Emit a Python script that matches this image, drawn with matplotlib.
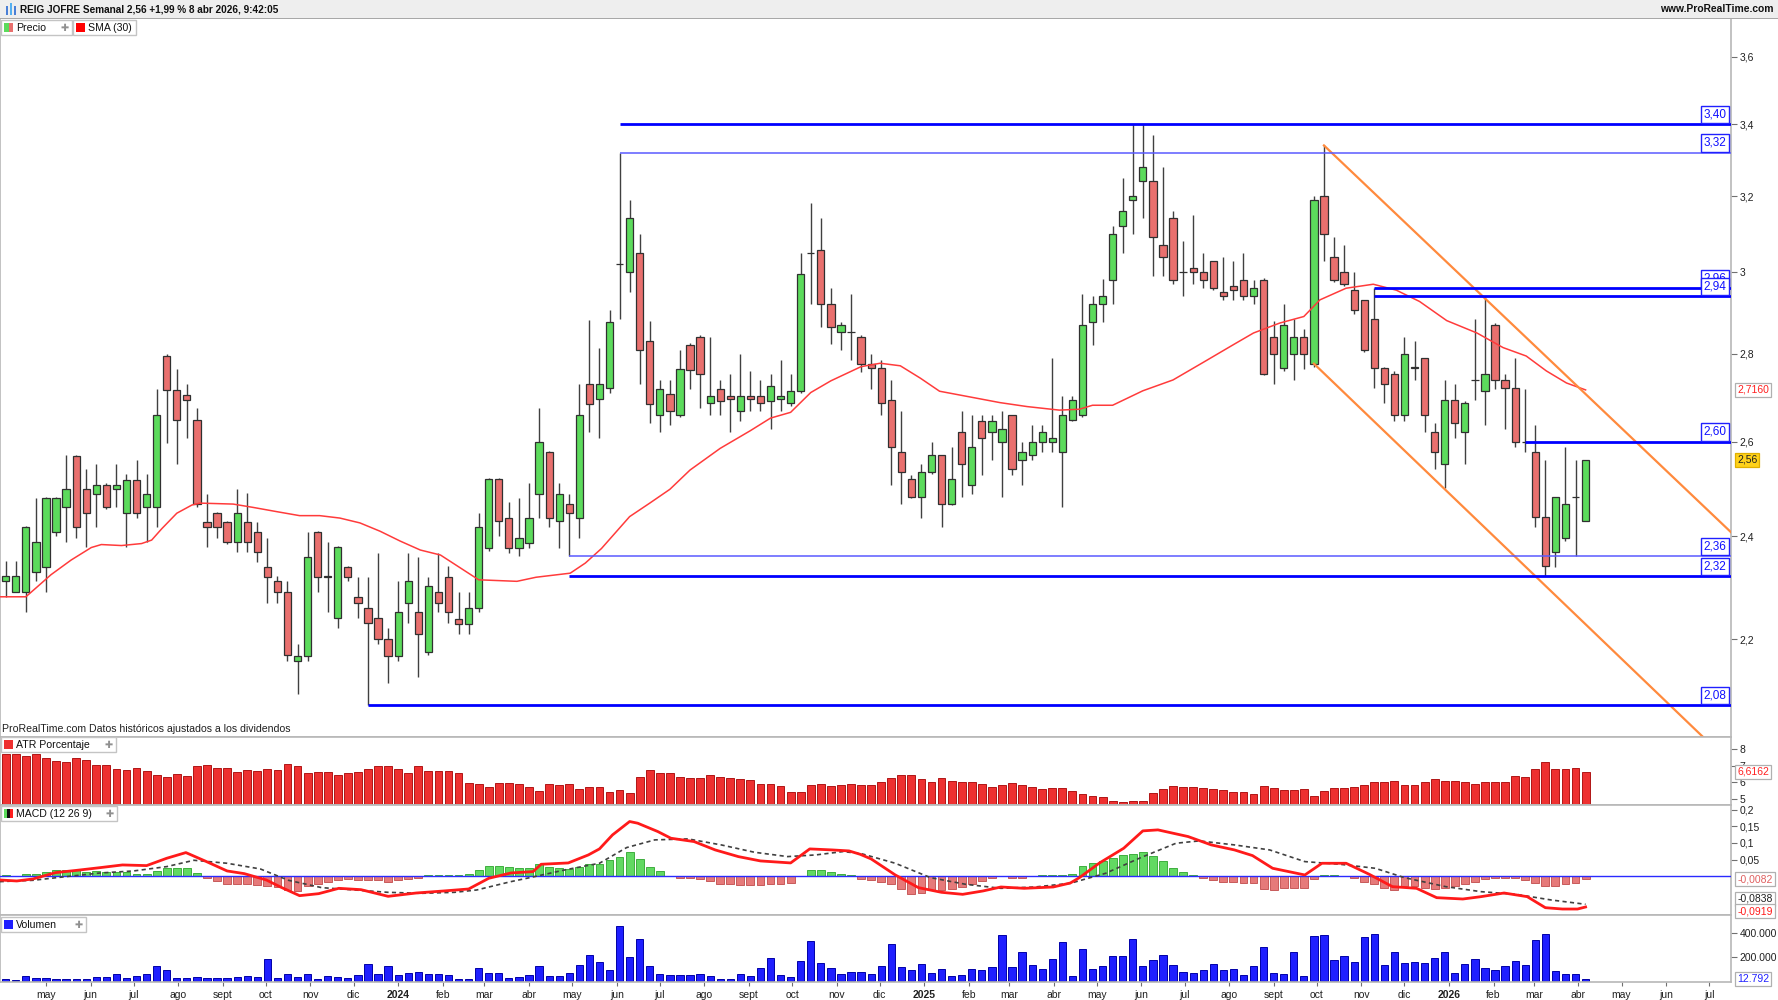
import matplotlib
matplotlib.use('Agg')
import matplotlib.pyplot as plt
import numpy as np
import pandas as pd
from matplotlib.patches import Rectangle
from matplotlib.ticker import NullLocator

plt.rcParams['font.family'] = ['Liberation Sans', 'DejaVu Sans']

W, H = 1778, 1000

# ---------------- data: weekly bars, first bar = week of 3 Apr 2023 ----------------
first_week = '2023-04-03'

opens = [2.31, 2.29, 2.29, 2.328, 2.338, 2.408, 2.459, 2.568, 2.497, 2.487,
         2.507, 2.497, 2.447, 2.517, 2.459, 2.459, 2.795, 2.716, 2.704, 2.647,
         2.428, 2.447, 2.428, 2.388, 2.428, 2.408, 2.338, 2.31, 2.289, 2.16,
         2.168, 2.408, 2.32, 2.24, 2.338, 2.28, 2.258, 2.24, 2.20, 2.168,
         2.268, 2.25, 2.176, 2.29, 2.318, 2.238, 2.228, 2.258, 2.377, 2.518,
         2.438, 2.377, 2.387, 2.487, 2.578, 2.43, 2.467, 2.438, 2.73, 2.695,
         2.72, 3.02, 3.0, 3.05, 2.83, 2.658, 2.707, 2.658, 2.82, 2.84,
         2.685, 2.717, 2.703, 2.667, 2.703, 2.703, 2.69, 2.695, 2.685, 2.714,
         3.05, 3.058, 2.92, 2.852, 2.852, 2.84, 2.777, 2.768, 2.694, 2.578,
         2.518, 2.48, 2.534, 2.57, 2.467, 2.62, 2.507, 2.645, 2.62, 2.598,
         2.658, 2.56, 2.57, 2.598, 2.598, 2.578, 2.648, 2.658, 2.877, 2.92,
         2.98, 3.12, 3.19, 3.24, 3.24, 3.07, 3.14, 3.0, 3.01, 3.0,
         3.03, 2.95, 2.965, 2.98, 2.94, 2.98, 2.84, 2.768, 2.80, 2.84,
         2.777, 3.20, 3.04, 3.0, 2.955, 2.93, 2.885, 2.768, 2.752, 2.658,
         2.768, 2.79, 2.62, 2.552, 2.694, 2.62, 2.738, 2.714, 2.87, 2.738,
         2.72, 2.598, 2.578, 2.44, 2.368, 2.397, 2.48, 2.43]

highs = [2.35, 2.35, 2.42, 2.479, 2.48, 2.48, 2.57, 2.57, 2.54, 2.55,
         2.51, 2.55, 2.53, 2.56, 2.53, 2.717, 2.80, 2.764, 2.73, 2.675,
         2.488, 2.45, 2.43, 2.497, 2.49, 2.428, 2.397, 2.32, 2.31, 2.19,
         2.408, 2.41, 2.388, 2.38, 2.34, 2.318, 2.318, 2.366, 2.22, 2.31,
         2.366, 2.359, 2.318, 2.366, 2.34, 2.29, 2.29, 2.447, 2.52, 2.52,
         2.47, 2.478, 2.51, 2.675, 2.58, 2.51, 2.487, 2.73, 2.882, 2.815,
         2.907, 3.32, 3.19, 3.10, 2.88, 2.74, 2.74, 2.81, 2.825, 2.845,
         2.84, 2.738, 2.752, 2.80, 2.76, 2.738, 2.752, 2.785, 2.752, 3.05,
         3.18, 3.14, 2.96, 2.877, 2.945, 2.845, 2.80, 2.785, 2.738, 2.667,
         2.528, 2.552, 2.598, 2.57, 2.588, 2.667, 2.658, 2.658, 2.658, 2.667,
         2.66, 2.598, 2.637, 2.637, 2.79, 2.703, 2.703, 2.945, 2.94, 2.983,
         3.12, 3.25, 3.40, 3.40, 3.37, 3.28, 3.16, 3.08, 3.15, 3.05,
         3.03, 3.04, 3.03, 3.05, 2.98, 2.985, 2.88, 2.92, 2.885, 2.86,
         3.20, 3.34, 3.09, 3.07, 3.0, 2.93, 2.96, 2.77, 2.76, 2.84,
         2.83, 2.79, 2.64, 2.738, 2.73, 2.69, 2.885, 2.94, 2.875, 2.752,
         2.79, 2.717, 2.637, 2.56, 2.48, 2.588, 2.56, 2.56]

lows = [2.28, 2.29, 2.25, 2.31, 2.29, 2.40, 2.388, 2.397, 2.378, 2.418,
        2.455, 2.459, 2.378, 2.437, 2.388, 2.418, 2.597, 2.55, 2.608, 2.459,
        2.378, 2.397, 2.385, 2.368, 2.368, 2.348, 2.268, 2.268, 2.16, 2.10,
        2.16, 2.29, 2.25, 2.22, 2.31, 2.24, 2.08, 2.19, 2.12, 2.16,
        2.23, 2.13, 2.17, 2.25, 2.23, 2.21, 2.21, 2.25, 2.37, 2.40,
        2.366, 2.36, 2.377, 2.438, 2.418, 2.377, 2.36, 2.397, 2.62, 2.608,
        2.71, 2.885, 2.95, 2.73, 2.64, 2.62, 2.637, 2.655, 2.717, 2.675,
        2.658, 2.658, 2.62, 2.645, 2.667, 2.667, 2.628, 2.667, 2.68, 2.71,
        2.92, 2.865, 2.823, 2.81, 2.785, 2.757, 2.717, 2.658, 2.507, 2.467,
        2.478, 2.437, 2.53, 2.418, 2.465, 2.48, 2.487, 2.528, 2.56, 2.48,
        2.528, 2.507, 2.56, 2.578, 2.578, 2.46, 2.645, 2.655, 2.82, 2.877,
        2.92, 3.05, 3.10, 3.14, 2.99, 2.99, 2.97, 2.94, 2.97, 2.96,
        2.955, 2.93, 2.93, 2.93, 2.92, 2.75, 2.73, 2.76, 2.74, 2.764,
        2.77, 3.03, 2.975, 2.965, 2.895, 2.805, 2.72, 2.685, 2.645, 2.645,
        2.738, 2.62, 2.54, 2.50, 2.608, 2.552, 2.694, 2.637, 2.717, 2.628,
        2.588, 2.578, 2.418, 2.32, 2.338, 2.39, 2.36, 2.43]

closes = [2.32, 2.32, 2.418, 2.388, 2.479, 2.479, 2.497, 2.418, 2.447, 2.507,
          2.459, 2.507, 2.517, 2.447, 2.487, 2.658, 2.716, 2.647, 2.694, 2.467,
          2.418, 2.418, 2.388, 2.447, 2.388, 2.368, 2.318, 2.29, 2.17, 2.168,
          2.359, 2.318, 2.318, 2.378, 2.318, 2.268, 2.23, 2.20, 2.168, 2.25,
          2.31, 2.21, 2.30, 2.268, 2.25, 2.228, 2.258, 2.418, 2.518, 2.43,
          2.377, 2.397, 2.438, 2.598, 2.438, 2.487, 2.447, 2.658, 2.684, 2.73,
          2.877, 3.02, 3.14, 2.81, 2.684, 2.717, 2.667, 2.764, 2.763, 2.752,
          2.703, 2.69, 2.695, 2.703, 2.695, 2.685, 2.726, 2.703, 2.714, 2.996,
          3.05, 2.92, 2.865, 2.87, 2.852, 2.777, 2.768, 2.685, 2.588, 2.534,
          2.48, 2.534, 2.57, 2.467, 2.518, 2.552, 2.588, 2.608, 2.645, 2.627,
          2.54, 2.578, 2.598, 2.62, 2.608, 2.658, 2.694, 2.87, 2.92, 2.94,
          3.10, 3.16, 3.20, 3.28, 3.09, 3.04, 2.98, 3.0, 3.0, 2.98,
          2.96, 2.94, 2.955, 2.94, 2.96, 2.752, 2.80, 2.87, 2.84, 2.80,
          3.19, 3.10, 2.98, 2.97, 2.905, 2.81, 2.768, 2.73, 2.658, 2.80,
          2.768, 2.658, 2.578, 2.694, 2.64, 2.685, 2.738, 2.752, 2.738, 2.72,
          2.60, 2.598, 2.44, 2.34, 2.48, 2.467, 2.48, 2.56]

volumes = [17000, 2000, 42000, 25000, 25000, 11000, 17000, 17000, 11000, 31000,
           31000, 56000, 25000, 42000, 56000, 125000, 92000, 25000, 25000, 31000,
           25000, 25000, 25000, 31000, 36000, 31000, 178000, 25000, 56000, 31000,
           56000, 17000, 36000, 31000, 25000, 47000, 139000, 56000, 125000, 47000,
           64000, 75000, 56000, 56000, 47000, 17000, 17000, 103000, 64000, 64000,
           25000, 31000, 47000, 119000, 42000, 42000, 64000, 131000, 214000, 153000,
           92000, 456000, 194000, 347000, 125000, 56000, 47000, 47000, 47000, 56000,
           36000, 17000, 17000, 56000, 36000, 108000, 186000, 47000, 31000, 164000,
           331000, 144000, 108000, 56000, 75000, 75000, 53000, 125000, 308000, 117000,
           92000, 136000, 61000, 100000, 36000, 47000, 100000, 86000, 117000, 381000,
           117000, 239000, 131000, 100000, 178000, 325000, 39000, 261000, 100000, 125000,
           208000, 208000, 347000, 125000, 169000, 217000, 131000, 69000, 61000, 86000,
           136000, 92000, 97000, 47000, 122000, 278000, 61000, 53000, 239000, 39000,
           369000, 378000, 169000, 203000, 153000, 361000, 392000, 131000, 239000, 147000,
           153000, 147000, 186000, 239000, 61000, 136000, 178000, 108000, 86000, 125000,
           164000, 131000, 339000, 386000, 78000, 56000, 56000, 12792]

atr_pct = [7.70, 7.70, 7.58, 7.70, 7.44, 7.28, 7.20, 7.44, 7.32, 7.03,
           7.03, 6.77, 6.71, 6.85, 6.69, 6.41, 6.29, 6.47, 6.35, 6.97,
           7.03, 6.87, 6.83, 6.59, 6.71, 6.67, 6.77, 6.71, 7.07, 6.97,
           6.53, 6.59, 6.59, 6.43, 6.53, 6.61, 6.81, 6.97, 6.97, 6.77,
           6.53, 6.97, 6.65, 6.65, 6.65, 6.53, 5.93, 5.91, 5.70, 5.93,
           5.97, 5.87, 5.73, 5.46, 5.91, 5.83, 5.87, 5.59, 5.69, 5.69,
           5.40, 5.53, 5.36, 6.31, 6.71, 6.53, 6.53, 6.29, 6.25, 6.25,
           6.41, 6.29, 6.23, 6.17, 6.11, 5.87, 5.91, 5.79, 5.40, 5.40,
           5.81, 5.91, 5.77, 5.83, 5.87, 5.83, 5.83, 6.00, 6.27, 6.43,
           6.41, 6.19, 6.00, 6.27, 6.09, 6.03, 6.00, 5.89, 5.71, 5.81,
           5.97, 5.83, 5.73, 5.59, 5.67, 5.67, 5.46, 5.26, 5.16, 5.10,
           4.88, 4.82, 4.88, 4.88, 5.36, 5.59, 5.75, 5.71, 5.71, 5.65,
           5.59, 5.53, 5.42, 5.42, 5.26, 5.77, 5.63, 5.55, 5.55, 5.59,
           5.14, 5.46, 5.63, 5.63, 5.69, 5.83, 6.03, 6.03, 6.09, 5.81,
           5.81, 6.03, 6.21, 6.05, 6.09, 6.03, 5.87, 6.03, 6.03, 6.03,
           6.35, 6.29, 6.81, 7.20, 6.77, 6.81, 6.87, 6.6162]

macd_hist = [0.004, 0.0, 0.006, 0.006, 0.012, 0.018, 0.02, 0.018, 0.014, 0.016,
             0.014, 0.014, 0.012, 0.007, 0.007, 0.016, 0.024, 0.024, 0.024, 0.01,
             -0.004, -0.013, -0.022, -0.022, -0.024, -0.026, -0.03, -0.032, -0.041, -0.044,
             -0.028, -0.022, -0.016, -0.012, -0.008, -0.01, -0.012, -0.012, -0.016, -0.012,
             -0.008, -0.004, 0.004, 0.004, 0.004, 0.004, 0.006, 0.018, 0.031, 0.031,
             0.028, 0.026, 0.026, 0.036, 0.028, 0.026, 0.021, 0.028, 0.036, 0.036,
             0.049, 0.058, 0.072, 0.053, 0.028, 0.015, 0.0, -0.006, -0.006, -0.009,
             -0.014, -0.022, -0.024, -0.026, -0.026, -0.026, -0.022, -0.022, -0.02, 0.0,
             0.018, 0.018, 0.014, 0.006, 0.004, -0.008, -0.01, -0.016, -0.024, -0.038,
             -0.052, -0.049, -0.042, -0.042, -0.038, -0.031, -0.022, -0.014, -0.006, 0.0,
             -0.004, -0.004, 0.0, 0.003, 0.003, 0.004, 0.007, 0.03, 0.041, 0.046,
             0.056, 0.064, 0.068, 0.074, 0.06, 0.046, 0.026, 0.014, 0.004, -0.006,
             -0.01, -0.016, -0.018, -0.02, -0.02, -0.038, -0.042, -0.036, -0.036, -0.036,
             -0.008, 0.004, 0.004, 0.0, -0.006, -0.016, -0.024, -0.034, -0.04, -0.028,
             -0.028, -0.034, -0.038, -0.034, -0.03, -0.024, -0.016, -0.008, -0.004, -0.004,
             -0.006, -0.01, -0.02, -0.03, -0.028, -0.024, -0.02, -0.0082]

# SMA(30), MACD and signal lines at these bar positions
sma_x = [-0.6, 2, 3, 4.5, 6.5, 8.5, 9.5, 11.5, 13.5, 14.5, 15.5, 17, 18.5, 19.3,
         22.6, 24.6, 27, 29.2, 31.2, 33.2, 35.2, 37.2, 39.2, 41.2, 43.2, 47, 50.8,
         52.7, 56.1, 57.6, 59.2, 62, 64, 66, 68, 71, 74, 76, 78, 80, 82, 85, 86.9,
         88.9, 90.9, 92.8, 95.8, 98.8, 101.5, 104.7, 106.7, 108, 110, 113, 116, 119,
         122, 124, 126.6, 129, 130.6, 133.2, 135.9, 138.2, 140.5, 143.2, 146.2,
         148.8, 151.1, 153.1, 155.1, 157]
sma_y = [2.28, 2.28, 2.297, 2.323, 2.352, 2.377, 2.383, 2.381, 2.385, 2.392, 2.415,
         2.447, 2.464, 2.468, 2.466, 2.459, 2.45, 2.442, 2.442, 2.437, 2.427, 2.41,
         2.39, 2.372, 2.362, 2.313, 2.31, 2.318, 2.326, 2.346, 2.375, 2.44, 2.468,
         2.497, 2.538, 2.585, 2.624, 2.652, 2.665, 2.71, 2.737, 2.77, 2.778, 2.772,
         2.743, 2.713, 2.70, 2.687, 2.678, 2.67, 2.672, 2.681, 2.681, 2.714, 2.739,
         2.78, 2.822, 2.85, 2.874, 2.89, 2.931, 2.96, 2.97, 2.955, 2.927, 2.88, 2.85,
         2.815, 2.795, 2.76, 2.732, 2.716]

macd_x = [-0.6, 1.1, 2.7, 4.95, 7.1, 9.4, 11.6, 14, 16, 17.9, 19.8, 22, 23.7, 25.9,
          27.3, 29.2, 31.1, 33.1, 35.3, 38, 40.8, 43.5, 46, 48, 50.2, 52.4, 53.2,
          55.9, 57.9, 59, 60.3, 62, 62.8, 64.8, 66.1, 68.4, 70.5, 72.8, 75, 78, 79.9,
          82.1, 83.8, 84.9, 86, 88.4, 90.7, 93, 95.1, 97.1, 98.9, 101.2, 104.1, 105.8,
          106.7, 108.7, 111.1, 113, 114.5, 117.5, 119.8, 122.1, 123.9, 125.9, 129.1,
          130.8, 133.2, 135.5, 137.8, 140.2, 142.2, 144.8, 146.6, 148.9, 151.2, 153,
          154.7, 156.2, 157]
macd_y = [-0.011, -0.014, -0.008, 0.011, 0.018, 0.026, 0.034, 0.032, 0.054, 0.071,
          0.046, 0.016, 0.008, -0.011, -0.032, -0.058, -0.052, -0.036, -0.04, -0.06,
          -0.05, -0.044, -0.038, -0.006, 0.01, 0.014, 0.036, 0.04, 0.064, 0.082,
          0.124, 0.164, 0.159, 0.134, 0.114, 0.104, 0.079, 0.059, 0.046, 0.04, 0.082,
          0.079, 0.076, 0.066, 0.052, 0.004, -0.034, -0.048, -0.054, -0.044, -0.032,
          -0.036, -0.032, -0.02, -0.004, 0.04, 0.084, 0.136, 0.139, 0.119, 0.094,
          0.079, 0.062, 0.024, 0.004, 0.039, 0.039, 0.006, -0.031, -0.036, -0.064,
          -0.068, -0.061, -0.05, -0.061, -0.094, -0.098, -0.098, -0.0919]

signal_x = [-0.6, 2.7, 6, 9.4, 12.7, 16, 18.7, 22, 25.3, 28.1, 31.4, 34.7, 38, 41.3,
            44.6, 46.8, 50.2, 52.4, 55.7, 59, 61.7, 64.5, 67.8, 71.1, 74.4, 77.7,
            80.5, 83.2, 85, 88.4, 91.9, 95.4, 98.9, 102.3, 105.8, 109.3, 112.8, 116.3,
            118.6, 122.1, 125.6, 129.1, 132.6, 136.1, 139, 143.1, 146.6, 150.1, 153.6, 157]
signal_y = [-0.016, -0.012, -0.001, 0.01, 0.016, 0.029, 0.048, 0.039, 0.022, -0.012,
            -0.034, -0.041, -0.048, -0.051, -0.048, -0.041, -0.016, -0.002, 0.02, 0.039,
            0.086, 0.109, 0.112, 0.094, 0.072, 0.059, 0.064, 0.074, 0.068, 0.039,
            -0.004, -0.024, -0.036, -0.032, -0.021, 0.009, 0.056, 0.099, 0.106, 0.094,
            0.079, 0.044, 0.036, 0.024, -0.004, -0.031, -0.046, -0.054, -0.071, -0.0838]

# horizontal support / resistance lines drawn on the chart
level_prices = [3.40, 3.32, 2.96, 2.94, 2.60, 2.36, 2.32, 2.08]
level_from_bar = [61, 61, 136, 136, 151, 56, 56, 36]
level_texts = ['3,40', '3,32', '2,96', '2,94', '2,60', '2,36', '2,32', '2,08']
level_thin = [False, True, False, False, False, True, False, False]

# bearish channel (bar, price) -> (bar, price)
channel = [((131, 3.34), (171.5, 2.407)), ((130, 2.777), (170.5, 1.995))]

month_names = {2: 'feb', 3: 'mar', 4: 'abr', 5: 'may', 6: 'jun', 7: 'jul',
               8: 'ago', 9: 'sept', 10: 'oct', 11: 'nov', 12: 'dic'}

# ---------------- figure ----------------
fig = plt.figure(figsize=(W / 100, H / 100), dpi=100)


def px_rect(x0, y0, x1, y1):
    return [x0 / W, 1 - y1 / H, (x1 - x0) / W, (y1 - y0) / H]


def fig_box(x0, y0, x1, y1, **kw):
    r = Rectangle((x0 / W, 1 - y1 / H), (x1 - x0) / W, (y1 - y0) / H,
                  transform=fig.transFigure, **kw)
    fig.patches.append(r)


def fig_text(x, y, s, **kw):
    fig.text(x / W, 1 - y / H, s, **kw)


X_RIGHT = 1731
ax_p = fig.add_axes(px_rect(0, 19, X_RIGHT, 737))
ax_a = fig.add_axes(px_rect(0, 737, X_RIGHT, 805), sharex=ax_p)
ax_m = fig.add_axes(px_rect(0, 805, X_RIGHT, 915), sharex=ax_p)
ax_v = fig.add_axes(px_rect(0, 915, X_RIGHT, 982), sharex=ax_p)

x = np.arange(len(closes))
o = np.array(opens)
c = np.array(closes)
up = c >= o

GREEN = '#5cdb5c'
RED = '#e9706e'

# candles
ax_p.vlines(x, lows, highs, color='#404040', lw=1.0, zorder=2)
body_lo = np.minimum(o, c)
body_h = np.maximum(np.abs(c - o), 0.0005)
ax_p.bar(x, body_h, bottom=body_lo, width=0.72,
         color=[GREEN if u else RED for u in up],
         edgecolor='#303030', linewidth=0.9, zorder=3)
ax_p.plot(sma_x, sma_y, color='#ff3b3b', lw=1.1, zorder=4)

for (x0, p0), (x1, p1) in channel:
    ax_p.plot([x0, x1], [p0, p1], color='#ff8a3d', lw=1.6, zorder=4)

xmin, xmax = -0.57, 171.45
for lv, start, thin in zip(level_prices, level_from_bar, level_thin):
    ax_p.hlines(lv, start, xmax, color='#5a5aff' if thin else '#0000ff',
                lw=1.1 if thin else 2.0, zorder=5)
for lv, txt in zip(level_prices, level_texts):
    ax_p.annotate(txt, xy=(1, lv), xycoords=('axes fraction', 'data'),
                  xytext=(-3.2, 2.6), textcoords='offset points', ha='right', va='bottom',
                  fontsize=8.5, color='#1010ff', zorder=6,
                  bbox=dict(boxstyle='square,pad=0.22', fc='white', ec='#2020ff', lw=1.0))

ax_p.set_yscale('log')
ax_p.set_ylim(2.025, 3.717)
ax_p.set_xlim(xmin, xmax)
pt = [2.2, 2.4, 2.6, 2.8, 3.0, 3.2, 3.4, 3.6]
ax_p.set_yticks(pt)
ax_p.set_yticklabels([('%g' % v).replace('.', ',') for v in pt])
ax_p.yaxis.set_minor_locator(NullLocator())

# ATR
ax_a.bar(x, atr_pct, width=0.78, color='#ee3030', edgecolor='#b01515', linewidth=0.7)
ax_a.set_ylim(4.613, 8.726)
ax_a.set_yticks([5, 6, 7, 8])
ax_a.set_yticklabels(['5', '6', '7', '8'])

# MACD
hist = np.array(macd_hist)
ax_m.bar(x, hist, width=0.78, color=['#62d962' if h >= 0 else '#e67a7a' for h in hist],
         edgecolor=['#3fae3f' if h >= 0 else '#c75a5a' for h in hist], linewidth=0.7, zorder=2)
ax_m.axhline(0, color='#2a2aff', lw=1.0, zorder=3)
ax_m.plot(signal_x, signal_y, color='#404040', lw=1.2, ls=(0, (2.5, 2)), zorder=4)
ax_m.plot(macd_x, macd_y, color='#ff1a1a', lw=2.0, zorder=5)
ax_m.set_ylim(-0.1159, 0.2135)
mt = [0.05, 0.1, 0.15, 0.2]
ax_m.set_yticks(mt)
ax_m.set_yticklabels(['0,05', '0,1', '0,15', '0,2'])

# volume
ax_v.bar(x, volumes, width=0.72, color='#1f1fff', edgecolor='#0000a8', linewidth=0.7)
ax_v.set_ylim(-11000, 547000)
ax_v.set_yticks([200000, 400000])
ax_v.set_yticklabels(['200.000', '400.000'])

# month axis
start = pd.Timestamp(first_week)
months = pd.date_range('2023-05-01', '2026-07-01', freq='MS')
mpos = [(m - start).days / 7 for m in months]
mlab = [str(m.year) if m.month == 1 else month_names[m.month] for m in months]
ax_v.set_xticks(mpos)
ax_v.set_xticklabels(mlab)
for t, m in zip(ax_v.get_xticklabels(), months):
    if m.month == 1:
        t.set_fontweight('bold')
        t.set_fontsize(8.5)

for ax in (ax_p, ax_a, ax_m, ax_v):
    ax.yaxis.tick_right()
    ax.tick_params(axis='y', direction='out', length=4, width=0.8, color='#707070',
                   labelsize=7.5, pad=2, labelcolor='#202020')
    for s in ax.spines.values():
        s.set_color('#b8b8b8')
        s.set_linewidth(1.2)
    ax.set_facecolor('white')
for ax in (ax_p, ax_a, ax_m):
    ax.tick_params(axis='x', bottom=False, labelbottom=False)
ax_v.tick_params(axis='x', direction='out', length=3, color='#707070', labelsize=7.5,
                 pad=3, labelcolor='#202020')
ax_p.spines['top'].set_visible(False)


def side_label(ax, val, txt, tc, fc='white', ec='#b0b0b0', dy=0):
    ax.annotate(txt, xy=(1, val), xycoords=('axes fraction', 'data'),
                xytext=(4.5, dy), textcoords='offset points', ha='left', va='center',
                fontsize=7.5, color=tc, annotation_clip=False, zorder=10,
                bbox=dict(boxstyle='square,pad=0.18', fc=fc, ec=ec, lw=0.9))


side_label(ax_p, sma_y[-1], '2,7160', '#ff2020')
side_label(ax_p, closes[-1], '2,56', '#202020', fc='#ffd21a', ec='#e0b000')
side_label(ax_a, atr_pct[-1], '6,6162', '#ff2020')
side_label(ax_m, signal_y[-1], '-0,0838', '#202020', dy=4)
side_label(ax_m, macd_hist[-1], '-0,0082', '#e06060')
side_label(ax_m, macd_y[-1], '-0,0919', '#ff1a1a', dy=-3)
side_label(ax_v, volumes[-1], '12.792', '#2020ff')

# header bar
fig_box(0, 0, W, 18, fc='#eeeeee', ec='none', zorder=20)
fig_box(0, 17.5, W, 19, fc='#a8a8a8', ec='none', zorder=20)
for i, col in enumerate(['#4a7fd6', '#55b0f0', '#4a7fd6']):
    fig_box(6 + i * 4, 6 - (i % 2) * 3, 8 + i * 4, 15, fc=col, ec='none', zorder=21)
fig_text(20, 9.5, 'REIG JOFRE Semanal 2,56 +1,99 % 8 abr 2026, 9:42:05', fontsize=7.2,
         fontweight='bold', va='center', ha='left', color='#101010', zorder=22)
fig_text(1774, 9.5, 'www.ProRealTime.com', fontsize=7.4, fontweight='bold', va='center',
         ha='right', color='#101010', zorder=22)

fig_text(2, 729, 'ProRealTime.com Datos históricos ajustados a los dividendos', fontsize=7.6,
         va='center', ha='left', color='#202020', zorder=22)


def legend_tag(x0, y0, x1, label, swatch, plus=True):
    fig_box(x0, y0, x1, y0 + 15, fc='white', ec='#c4c4c4', lw=1.0, zorder=20)
    n = len(swatch)
    for k, col in enumerate(swatch):
        fig_box(x0 + 3 + k * 9 / n, y0 + 3, x0 + 3 + (k + 1) * 9 / n, y0 + 12,
                fc=col, ec='none', zorder=21)
    fig_text(x0 + 15, y0 + 8, label, fontsize=7.6, va='center', ha='left',
             color='#101010', zorder=22)
    if plus:
        fig_text(x1 - 3, y0 + 8, '✚', fontsize=7, va='center', ha='right', color='#909090',
                 family='DejaVu Sans', zorder=22)


legend_tag(1, 20, 72, 'Precio', ['#5cdb5c', '#e9706e'])
legend_tag(73, 20, 136, 'SMA (30)', ['#ff0000'], plus=False)
legend_tag(1, 737, 116, 'ATR Porcentaje', ['#ee3030'])
legend_tag(1, 806, 117, 'MACD (12 26 9)', ['#5cdb5c', '#101010', '#ff2020'])
legend_tag(1, 917, 86, 'Volumen', ['#1f1fff'])

fig.savefig('out.png', dpi=100)
